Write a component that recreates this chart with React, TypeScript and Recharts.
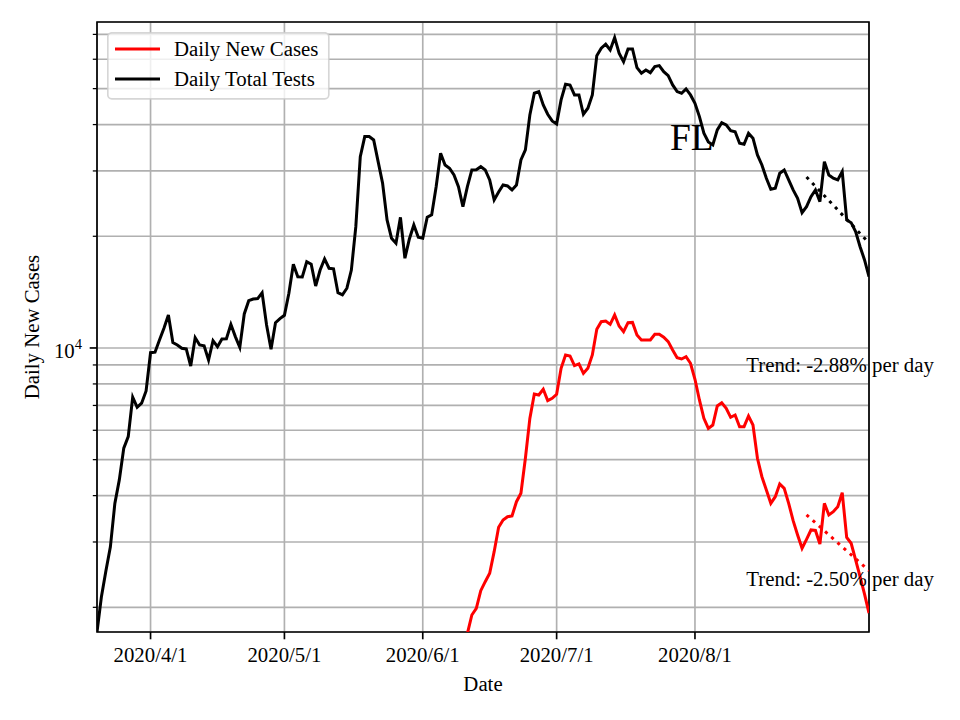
import React from 'react';
import {
  LineChart,
  Line,
  XAxis,
  YAxis,
  CartesianGrid,
  ReferenceDot,
  ReferenceArea,
  Legend,
  Label,
} from 'recharts';

const FONT = '"Liberation Serif", "Times New Roman", "DejaVu Serif", serif';

// ---- data (day 0 = 2020/3/20) ----
const xTickDays = [12, 42, 73, 103, 134];
const xTickLabels = ['2020/4/1', '2020/5/1', '2020/6/1', '2020/7/1', '2020/8/1'];
const xDomain = [0, 173];

const yTicks = [2000, 3000, 4000, 5000, 6000, 7000, 8000, 9000, 10000, 20000, 30000, 40000, 50000, 60000, 70000];
const yMajorTicks = [10000];
const yDomain = [1716, 75600];

const seriesNames = ['Daily New Cases', 'Daily Total Tests'];

const dailyTotalTests = [
  1716, 2140, 2510, 2910, 3810, 4410, 5370, 5770, 7370, 6920,
  7100, 7660, 9710, 9740, 10510, 11300, 12270, 10340, 10190, 9980,
  9940, 8940, 10660, 10190, 10140, 9280, 10460, 10080, 10570, 10590,
  11580, 10730, 10040, 12350, 13410, 13550, 13590, 14090, 11530, 9920,
  11700, 12000, 12250, 14040, 16810, 15560, 15530, 17080, 16810, 14690,
  16220, 17380, 16400, 16350, 14090, 13900, 14490, 16220, 21230, 32790,
  37120, 37120, 36360, 31780, 27790, 22130, 19760, 19150, 22500, 17450,
  19670, 21460, 19880, 19760, 22500, 22840, 27210, 33480, 31130, 30500,
  29260, 27210, 24030, 27210, 30180, 30230, 30810, 30180, 28370, 25060,
  26340, 27500, 27330, 26660, 27500, 32120, 34180, 42460, 48590, 49080,
  45190, 42650, 40920, 40170, 46620, 51370, 51140, 48080, 48080, 42650,
  44260, 48080, 61360, 64240, 65860, 63570, 68610, 62280, 59110, 63970,
  63970, 56940, 55000, 56140, 55210, 57310, 57680, 55550, 54200, 51150,
  49080, 48590, 49900, 48080, 45660, 42030, 37910, 35900, 35260, 38690,
  40490, 39920, 38520, 38280, 35620, 35400, 37910, 36750, 33130, 31130,
  28670, 26780, 26950, 29570, 30180, 28370, 26660, 25320, 23160, 24030,
  25570, 26660, 24790, 31780, 29260, 28670, 28370, 29870, 22130, 21760,
  20580, 18750, 17270, 15560,
];

const casesStartDay = 83;
const dailyNewCases = [
  1700, 1907, 1988, 2218, 2345, 2470, 2825, 3287, 3439, 3510,
  3525, 3852, 4059, 5043, 6461, 7516, 7470, 7738, 7211, 7318,
  7502, 8817, 9575, 9515, 8960, 9055, 8546, 8817, 9575, 11230,
  11770, 11820, 11580, 12270, 11460, 11060, 11700, 11720, 10840, 10510,
  10510, 10510, 10890, 10890, 10690, 10400, 9877, 9416, 9340, 9475,
  9094, 8234, 7243, 6461, 6073, 6200, 6977, 7119, 6878, 6503,
  6597, 6135, 6135, 6556, 6200, 5043, 4498, 4143, 3814, 3973,
  4299, 4186, 3814, 3424, 3133, 2885, 3050, 3232, 3222, 2962,
  3814, 3548, 3621, 3735, 4074, 3088, 2976, 2683, 2418, 2170,
  1930,
];

const trendDays = [159, 173];
const trendTests = [28900, 19200];
const trendCases = [3550, 2510];

const stateLabel = 'FL';
const trendTestsLabel = 'Trend: -2.88% per day';
const trendCasesLabel = 'Trend: -2.50% per day';
const stateLabelAt = { day: 128.4, value: 34200 };
const trendTestsLabelAt = { day: 145.5, value: 8630 };
const trendCasesLabelAt = { day: 145.5, value: 2283 };

const chartData = dailyTotalTests.map((tests, day) => {
  const ci = day - casesStartDay;
  const ti = trendDays.indexOf(day);
  return {
    day,
    tests,
    cases: ci >= 0 && ci < dailyNewCases.length ? dailyNewCases[ci] : null,
    trendTests: ti >= 0 ? trendTests[ti] : null,
    trendCases: ti >= 0 ? trendCases[ti] : null,
  };
});

// ---- rendering helpers ----
const XTick = (props: any) => {
  const { x, y, payload } = props;
  const i = xTickDays.indexOf(payload.value);
  return (
    <g>
      <line x1={x} x2={x} y1={y} y2={y + 7.3} stroke="#000" strokeWidth={1.67} />
      <text x={x} y={y + 30.3} textAnchor="middle" fontSize={20.8} fontFamily={FONT} fill="#000">
        {i >= 0 ? xTickLabels[i] : ''}
      </text>
    </g>
  );
};

const YTick = (props: any) => {
  const { x, y, payload } = props;
  const major = yMajorTicks.indexOf(payload.value) >= 0;
  const exp = Math.round(Math.log10(payload.value));
  return (
    <g>
      <line
        x1={x - (major ? 7.3 : 4.2)}
        x2={x}
        y1={y}
        y2={y}
        stroke="#000"
        strokeWidth={major ? 1.67 : 1.25}
      />
      {major && (
        <text x={x - 15} y={y + 10.3} textAnchor="end" fontSize={20.8} fontFamily={FONT} fill="#000">
          <tspan>10</tspan>
          <tspan dy={-9.3} fontSize={14.6}>{String(exp)}</tspan>
        </text>
      )}
    </g>
  );
};

const XLabel = (props: any) => {
  const vb = props.viewBox;
  return (
    <text x={vb.x + vb.width / 2} y={vb.y + 59} textAnchor="middle" fontSize={20.8} fontFamily={FONT} fill="#000">
      Date
    </text>
  );
};

const YLabel = (props: any) => {
  const vb = props.viewBox;
  const cx = vb.x + 39;
  const cy = vb.y + vb.height / 2;
  return (
    <text
      x={cx}
      y={cy}
      transform={`rotate(-90 ${cx} ${cy})`}
      textAnchor="middle"
      fontSize={20.8}
      fontFamily={FONT}
      fill="#000"
    >
      Daily New Cases
    </text>
  );
};

const makeAnnot = (text: string, size: number) => (props: any) => {
  const vb = props.viewBox;
  return (
    <text x={vb.x} y={vb.y} textAnchor="start" fontSize={size} fontFamily={FONT} fill="#000">
      {text}
    </text>
  );
};

const LegendBox = () => (
  <svg width={224} height={70} style={{ display: 'block' }}>
    <rect
      x={0.8}
      y={0.8}
      width={221}
      height={66}
      rx={4}
      ry={4}
      fill="#fff"
      fillOpacity={0.8}
      stroke="#cccccc"
      strokeOpacity={0.8}
      strokeWidth={1.67}
    />
    <line x1={8} x2={53} y1={17} y2={17} stroke="#ff0000" strokeWidth={3} />
    <text x={67} y={24} fontSize={20.8} fontFamily={FONT} fill="#000">
      {seriesNames[0]}
    </text>
    <line x1={8} x2={53} y1={47} y2={47} stroke="#000" strokeWidth={3} />
    <text x={67} y={54} fontSize={20.8} fontFamily={FONT} fill="#000">
      {seriesNames[1]}
    </text>
  </svg>
);

export default function App() {
  return (
    <div style={{ position: 'absolute', left: 0, top: 0, width: 960, height: 720, background: '#fff' }}>
      <LineChart
        width={960}
        height={720}
        data={chartData}
        margin={{ top: 22, right: 91, bottom: 0, left: 0 }}
      >
        <CartesianGrid stroke="#b0b0b0" strokeWidth={1.67} />
        <XAxis
          dataKey="day"
          type="number"
          domain={xDomain}
          ticks={xTickDays}
          interval={0}
          allowDataOverflow
          height={88}
          tickSize={0}
          tickMargin={0}
          tickLine={false}
          axisLine={false}
          tick={<XTick />}
        >
          <Label content={<XLabel />} />
        </XAxis>
        <YAxis
          type="number"
          scale="log"
          domain={yDomain}
          ticks={yTicks}
          interval={0}
          allowDataOverflow
          width={97}
          tickSize={0}
          tickMargin={0}
          tickLine={false}
          axisLine={false}
          tick={<YTick />}
        >
          <Label content={<YLabel />} />
        </YAxis>
        <Line
          dataKey="tests"
          name={seriesNames[1]}
          stroke="#000000"
          strokeWidth={3}
          dot={false}
          activeDot={false}
          isAnimationActive={false}
        />
        <Line
          dataKey="cases"
          name={seriesNames[0]}
          stroke="#ff0000"
          strokeWidth={3}
          dot={false}
          activeDot={false}
          isAnimationActive={false}
        />
        <Line
          dataKey="trendTests"
          stroke="#000000"
          strokeWidth={3}
          strokeDasharray="3.1 5.2"
          connectNulls
          dot={false}
          activeDot={false}
          isAnimationActive={false}
          legendType="none"
        />
        <Line
          dataKey="trendCases"
          stroke="#ff0000"
          strokeWidth={3}
          strokeDasharray="3.1 5.2"
          connectNulls
          dot={false}
          activeDot={false}
          isAnimationActive={false}
          legendType="none"
        />
        <ReferenceArea
          x1={xDomain[0]}
          x2={xDomain[1]}
          y1={yDomain[0]}
          y2={yDomain[1]}
          fill="none"
          stroke="#000"
          strokeWidth={1.67}
          ifOverflow="visible"
        />
        <ReferenceDot
          x={stateLabelAt.day}
          y={stateLabelAt.value}
          r={0}
          fill="none"
          stroke="none"
          label={makeAnnot(stateLabel, 37.5)}
        />
        <ReferenceDot
          x={trendTestsLabelAt.day}
          y={trendTestsLabelAt.value}
          r={0}
          fill="none"
          stroke="none"
          label={makeAnnot(trendTestsLabel, 20.8)}
        />
        <ReferenceDot
          x={trendCasesLabelAt.day}
          y={trendCasesLabelAt.value}
          r={0}
          fill="none"
          stroke="none"
          label={makeAnnot(trendCasesLabel, 20.8)}
        />
        <Legend
          content={<LegendBox />}
          layout="vertical"
          align="center"
          verticalAlign="middle"
          wrapperStyle={{ left: 107, top: 32, width: 224, height: 70 }}
        />
      </LineChart>
    </div>
  );
}
